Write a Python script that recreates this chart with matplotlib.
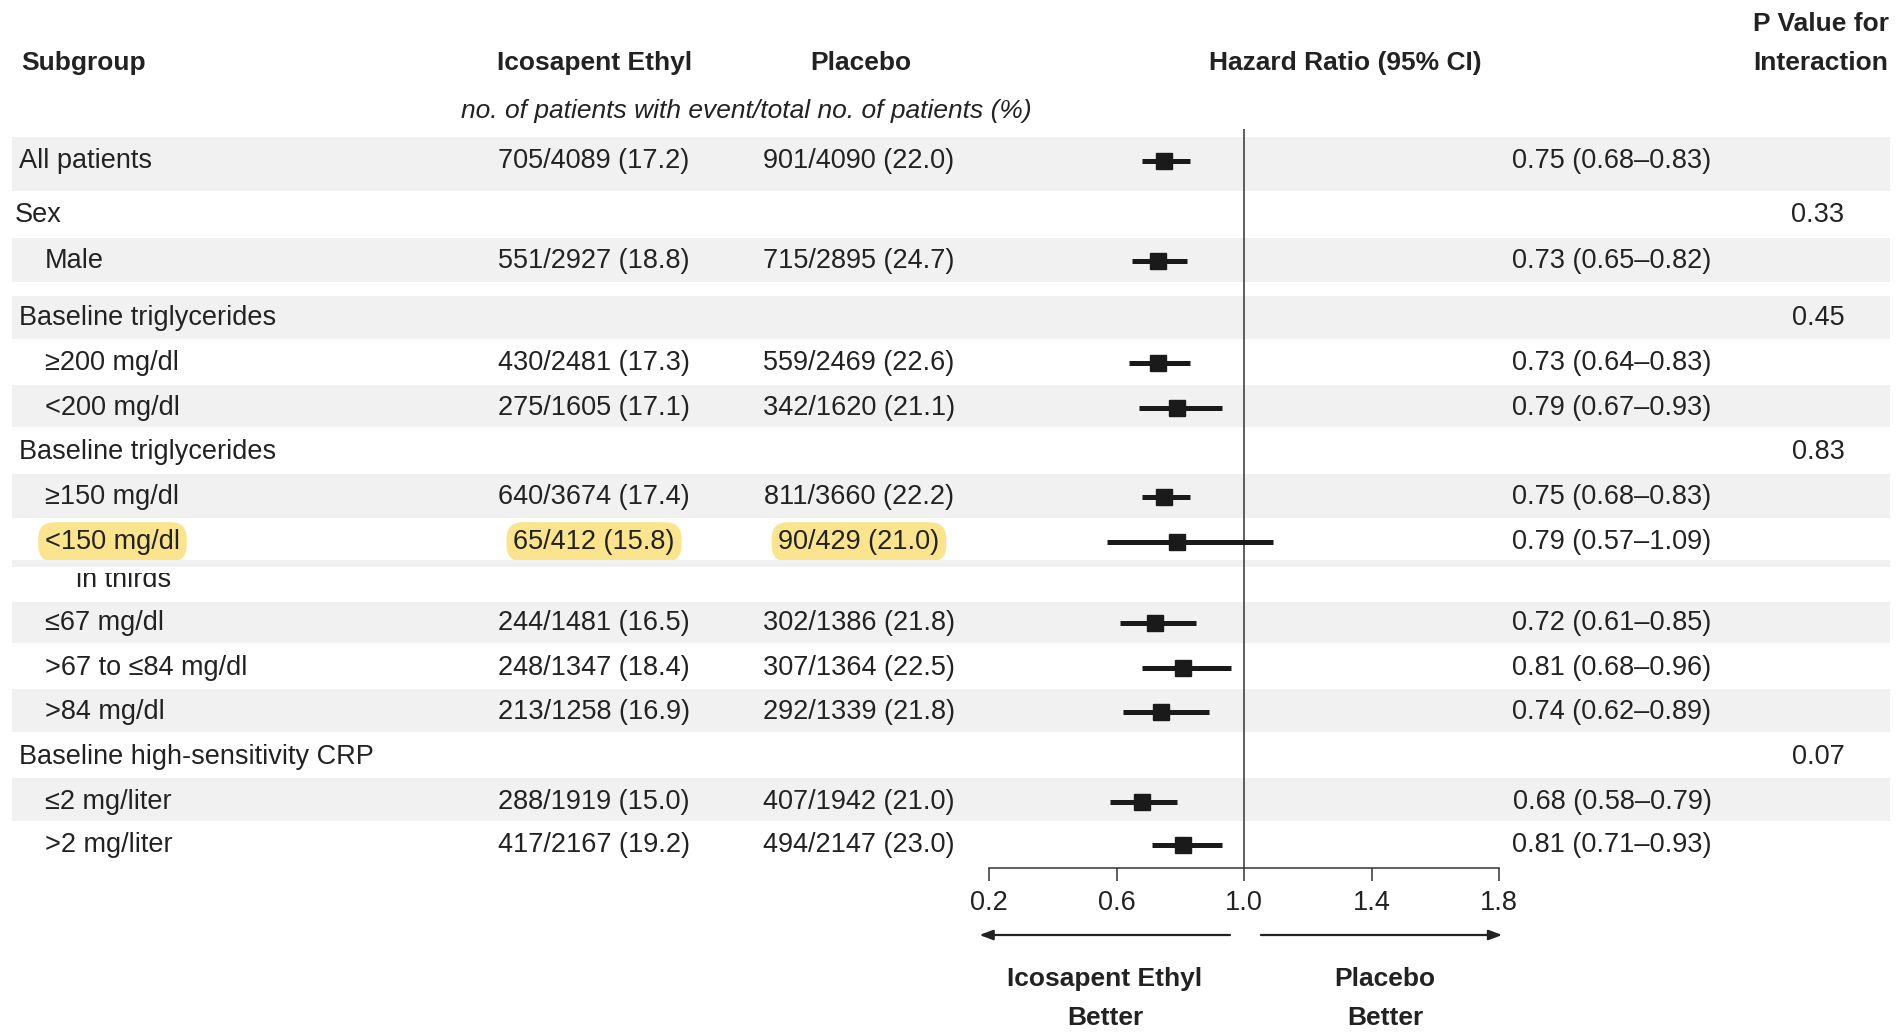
import numpy as np
import matplotlib
matplotlib.use("Agg")
import matplotlib.pyplot as plt

# ---------------- data ----------------
subgroups = ["All patients", "Sex", "Male", "Baseline triglycerides",
             "\u2265200 mg/dl", "<200 mg/dl", "Baseline triglycerides",
             "\u2265150 mg/dl", "<150 mg/dl", "in thirds",
             "\u226467 mg/dl", ">67 to \u226484 mg/dl", ">84 mg/dl",
             "Baseline high-sensitivity CRP", "\u22642 mg/liter", ">2 mg/liter"]
icosapent = ["705/4089 (17.2)", "", "551/2927 (18.8)", "", "430/2481 (17.3)",
             "275/1605 (17.1)", "", "640/3674 (17.4)", "65/412 (15.8)", "",
             "244/1481 (16.5)", "248/1347 (18.4)", "213/1258 (16.9)", "",
             "288/1919 (15.0)", "417/2167 (19.2)"]
placebo = ["901/4090 (22.0)", "", "715/2895 (24.7)", "", "559/2469 (22.6)",
           "342/1620 (21.1)", "", "811/3660 (22.2)", "90/429 (21.0)", "",
           "302/1386 (21.8)", "307/1364 (22.5)", "292/1339 (21.8)", "",
           "407/1942 (21.0)", "494/2147 (23.0)"]
nan = np.nan
hr = [0.75, nan, 0.73, nan, 0.73, 0.79, nan, 0.75, 0.79, nan, 0.72, 0.81, 0.74, nan, 0.68, 0.81]
ci_lo = [0.68, nan, 0.65, nan, 0.64, 0.67, nan, 0.68, 0.57, nan, 0.61, 0.68, 0.62, nan, 0.58, 0.71]
ci_hi = [0.83, nan, 0.82, nan, 0.83, 0.93, nan, 0.83, 1.09, nan, 0.85, 0.96, 0.89, nan, 0.79, 0.93]
p_interaction = ["", "0.33", "", "0.45", "", "", "0.83", "", "", "", "", "", "", "0.07", "", ""]
tick_values = [0.2, 0.6, 1.0, 1.4, 1.8]
tick_labels = ["0.2", "0.6", "1.0", "1.4", "1.8"]

# ---------------- layout (figure pixels) ----------------
W, H = 1896, 1032
row_y = [161, 215, 261, 318, 363, 408, 452, 497, 542, 580, 623, 668, 712, 757, 802, 845]
indent = [0, 0, 1, 0, 1, 1, 0, 1, 1, 2, 1, 1, 1, 0, 1, 1]
indent_x = {0: 19, 1: 45, 2: 76}
stripes = [(137, 191), (238, 282), (296, 339), (385, 427), (474, 518),
           (602, 643), (689, 732), (778, 821)]
thin_stripe = (560, 567)
highlight_row = 8

FONT = ["Liberation Sans Narrow", "Liberation Sans", "DejaVu Sans"]
TXT = "#222222"
FS = 19.5
HFS = 19
plt.rcParams["font.family"] = FONT

fig = plt.figure(figsize=(W / 100, H / 100), dpi=100)
ax = fig.add_axes([0, 0, 1, 1])
ax.set_xlim(0, W)
ax.set_ylim(H, 0)
ax.axis("off")

# stripes
for y0, y1 in stripes:
    ax.add_patch(plt.Rectangle((12, y0), 1878, y1 - y0, color="#f1f1f1", lw=0, zorder=0))
ax.add_patch(plt.Rectangle((12, thin_stripe[0]), 1878, thin_stripe[1] - thin_stripe[0],
                           color="#f1f1f1", lw=0, zorder=5))
ax.add_patch(plt.Rectangle((12, thin_stripe[1]), 1878, 6, color="white", lw=0, zorder=5))

# headers
hdr = dict(fontsize=HFS, fontweight="bold", color=TXT, va="center")
ax.text(21, 63, "Subgroup", ha="left", **hdr)
ax.text(595, 63, "Icosapent Ethyl", ha="center", **hdr)
ax.text(861, 63, "Placebo", ha="center", **hdr)
ax.text(1345, 63, "Hazard Ratio (95% CI)", ha="center", **hdr)
ax.text(1821, 24, "P Value for", ha="center", **hdr)
ax.text(1821, 63, "Interaction", ha="center", **hdr)
ax.text(746, 111, "no. of patients with event/total no. of patients (%)",
        ha="center", va="center", fontsize=19, style="italic", color=TXT)

hl = dict(boxstyle="round,pad=0.25,rounding_size=0.6", fc="#fbe48e", ec="none")
for i, name in enumerate(subgroups):
    y = row_y[i]
    bb = hl if i == highlight_row else None
    x0 = indent_x[indent[i]] - (4 if name == "Sex" else 0)
    ax.text(x0, y, name, ha="left", va="center", fontsize=FS,
            color=TXT, bbox=bb, zorder=2)
    if icosapent[i]:
        ax.text(594, y, icosapent[i], ha="center", va="center", fontsize=FS,
                color=TXT, bbox=bb, zorder=2)
    if placebo[i]:
        ax.text(859, y, placebo[i], ha="center", va="center", fontsize=FS,
                color=TXT, bbox=bb, zorder=2)
    if not np.isnan(hr[i]):
        ax.text(1612, y, f"{hr[i]:.2f} ({ci_lo[i]:.2f}\u2013{ci_hi[i]:.2f})",
                ha="center", va="center", fontsize=FS, color=TXT, zorder=2)
    if p_interaction[i]:
        ax.text(1818, y, p_interaction[i], ha="center", va="center", fontsize=FS,
                color=TXT, zorder=2)

# ---------------- forest axes ----------------
fa = fig.add_axes([989 / W, 0, (1499 - 989) / W, 1])
fa.set_xlim(0.2, 1.8)
fa.set_ylim(H, 0)
fa.patch.set_alpha(0)
for s in ["top", "left", "right"]:
    fa.spines[s].set_visible(False)
fa.spines["bottom"].set_position(("data", 868))
fa.spines["bottom"].set_linewidth(1.1)
fa.spines["bottom"].set_color("#333333")
fa.set_yticks([])
fa.set_xticks(tick_values)
fa.set_xticklabels(tick_labels)
fa.tick_params(axis="x", direction="out", length=9.5, width=1.1, color="#333333",
               pad=6, labelsize=FS, labelcolor=TXT)

fa.vlines(1.0, 129, 868, color="#333333", lw=1.1, zorder=1)
for i in range(len(subgroups)):
    if np.isnan(hr[i]):
        continue
    fa.hlines(row_y[i], ci_lo[i], ci_hi[i], color="#1a1a1a", lw=3.6, zorder=3)
    fa.plot(hr[i], row_y[i], marker="s", ms=12, color="#1a1a1a", zorder=4)

arrow = dict(arrowstyle="-|>,head_length=0.8,head_width=0.3", color="#222222", lw=1.6,
             shrinkA=0, shrinkB=0)
fa.annotate("", xy=(0.17, 935), xytext=(0.956, 935), arrowprops=arrow, annotation_clip=False)
fa.annotate("", xy=(1.81, 935), xytext=(1.053, 935), arrowprops=arrow, annotation_clip=False)

lab = {k: v for k, v in hdr.items() if k != "va"}
ax.text(1105, 979, "Icosapent Ethyl", ha="center", va="center", **lab)
ax.text(1105, 1018, "Better", ha="center", va="center", **lab)
ax.text(1385, 979, "Placebo", ha="center", va="center", **lab)
ax.text(1385, 1018, "Better", ha="center", va="center", **lab)

fig.savefig("out.png", dpi=100)
